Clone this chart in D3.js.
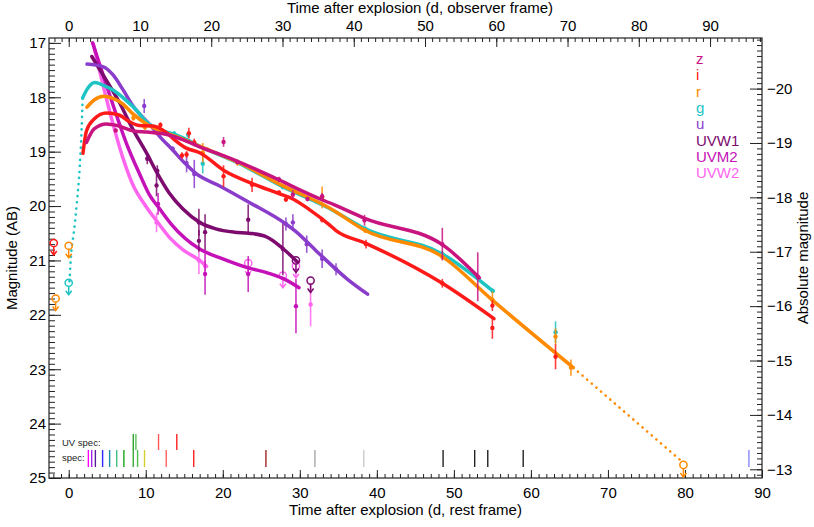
<!DOCTYPE html>
<html>
<head>
<meta charset="utf-8">
<script src="https://cdn.jsdelivr.net/npm/d3@7"></script>
<style>
body { margin: 0; background: #fff; }
svg text { font-family: "Liberation Sans", Arial, Helvetica, sans-serif; }
</style>
</head>
<body>
<svg id="chart" width="814" height="527"></svg>
<script>
/* Multi-band light curve (rest frame) with observer-frame and absolute-mag axes */

// redshift and distance modulus used for the secondary axes
var zRed = 0.081;
var distMod = 37.84;

var bandNames = ['z', 'i', 'r', 'g', 'u', 'UVW1', 'UVM2', 'UVW2'];

// smoothed curves: [rest-frame day, AB mag]
var curveZ = [[2.3,18.83],[3.3,18.58],[4.9,18.49],[6.3,18.52],[8.4,18.62],[10.2,18.64],[12.6,18.68],[14.8,18.78],[17.0,18.91],[21.3,19.14],[27.3,19.52],[31.2,19.78],[34.5,19.98],[38.5,20.23],[48.5,20.71],[53.3,21.32]];
var curveI = [[1.85,19.03],[2.3,18.62],[3.3,18.40],[4.9,18.29],[6.6,18.33],[7.9,18.45],[9.2,18.52],[10.9,18.53],[12.6,18.64],[13.9,18.8],[15.2,18.93],[17.0,19.02],[20.2,19.35],[23.9,19.59],[27.3,19.77],[29.1,19.87],[31.2,20.06],[33.8,20.34],[34.7,20.45],[38.5,20.68],[48.5,21.42],[55.2,22.07]];
var curveR = [[2.37,18.18],[3.3,18.05],[4.6,17.98],[5.9,18.03],[7.0,18.12],[8.3,18.30],[10.1,18.49],[12.0,18.62],[13.9,18.72],[17.0,18.9],[21.9,19.19],[27.7,19.62],[33.8,20.03],[38.5,20.45],[48.5,20.93],[55.0,21.73],[65.5,22.97]];
var curveG = [[1.81,18.01],[2.4,17.85],[3.4,17.73],[4.5,17.78],[5.8,17.87],[7.0,18.0],[8.4,18.18],[10.5,18.5],[11.8,18.6],[13.9,18.69],[15.4,18.78],[17.0,18.9],[21.9,19.2],[27.7,19.64],[33.8,20.04],[38.5,20.42],[48.5,20.88],[55.05,21.56]];
var curveU = [[2.37,17.39],[4.5,17.44],[5.7,17.58],[7.0,17.85],[8.3,18.15],[10.5,18.5],[12.0,18.75],[13.5,18.97],[15.0,19.2],[16.5,19.4],[19.6,19.63],[23.4,19.93],[28.2,20.33],[29.5,20.47],[32.1,20.82],[36.4,21.37],[38.8,21.62]];
var curveW1 = [[3.0,17.25],[4.5,17.6],[6.6,18.1],[8.3,18.58],[10.2,19.05],[11.5,19.4],[13.0,19.75],[14.8,20.05],[17.0,20.3],[19.1,20.42],[21.5,20.48],[23.4,20.5],[25.6,20.56],[27.8,20.78],[29.7,21.03]];
var curveM2 = [[3.1,17.0],[5.3,17.95],[7.5,18.85],[9.2,19.41],[10.5,19.8],[11.8,20.05],[13.3,20.33],[17.0,20.79],[20.0,20.97],[23.4,21.14],[25.6,21.22],[27.8,21.33],[29.9,21.50]];
var curveW2 = [[3.2,17.02],[5.3,18.25],[7.0,19.1],[8.3,19.6],[10.1,20.02],[11.4,20.27],[13.1,20.58],[14.8,20.8],[17.0,21.0],[17.9,21.11]];

// dotted extrapolations
var dotG = [[0.1,21.38],[0.35,20.82],[0.65,20.5],[1.08,19.9],[1.42,19.3],[1.65,18.66],[1.81,18.01]];
var dotR = [[65.5,22.97],[79.8,24.72]];

// photometry: [day, mag, error]
var obsZ = [[6.1,18.61,0.03],[20.1,18.82,0.09],[21.9,19.19,0.04],[27.3,19.51,0.05],[29.1,19.79,0.08],[31.0,19.87,0.04],[32.9,19.82,0.06],[38.4,20.26,0.1],[48.5,20.70,0.3],[53.1,21.30,0.45]];
var obsI = [[11.9,18.51,0.05],[15.6,18.66,0.1],[14.7,19.07,0.06],[15.3,19.05,0.06],[16.3,18.83,0.07],[20.1,19.45,0.2],[23.8,19.61,0.13],[27.3,19.75,0.03],[28.2,19.88,0.04],[32.9,20.25,0.05],[38.6,20.70,0.08],[48.5,21.42,0.08],[55.0,21.83,0.1],[55.0,22.24,0.2],[63.2,22.77,0.23]];
var obsR = [[8.4,18.38,0.05],[9.9,18.55,0.05],[17.4,19.02,0.18],[21.9,19.2,0.06],[32.9,19.84,0.2],[38.5,20.45,0.04],[48.5,20.93,0.05],[55.0,21.72,0.15],[63.2,22.40,0.15],[65.2,22.97,0.15]];
var obsG = [[13.7,18.67,0.05],[15.5,18.69,0.05],[17.4,19.22,0.18],[27.8,19.65,0.04],[38.5,20.42,0.05],[48.5,20.88,0.05],[55.05,21.56,0.04],[63.2,22.32,0.2]];
var obsU = [[9.8,18.16,0.13],[13.5,18.95,0.05],[15.3,19.21,0.17],[16.3,19.41,0.26],[28.2,20.33,0.12],[29.1,20.30,0.15],[30.9,20.70,0.16],[32.9,20.97,0.17],[34.7,21.16,0.11]];
var obsW1 = [[10.2,19.13,0.1],[11.5,19.35,0.1],[11.4,19.62,0.2],[16.9,20.30,0.25],[16.9,20.64,0.2],[17.7,20.48,0.33],[23.3,20.25,0.28],[27.8,20.79,0.48]];
var obsM2 = [[11.6,19.96,0.2],[17.7,21.25,0.38],[23.3,21.25,0.33],[29.5,21.84,0.5]];
var obsW2 = [[11.4,20.30,0.18],[16.9,21.0,0.25],[17.7,21.1,0.1],[31.4,21.81,0.4]];

// upper limits: [day, mag]
var limZ = [];
var limI = [[-1.94,20.68]];
var limR = [[0,20.73],[-1.7,21.70],[79.8,24.76]];
var limG = [[0,21.41]];
var limU = [];
var limW1 = [[29.5,21.0],[31.4,21.37]];
var limM2 = [];
var limW2 = [[23.3,21.05],[27.8,21.28],[29.5,21.1]];

// spectra epochs (rest-frame days)
var specDays = [2.55,2.98,3.46,4.40,5.31,6.23,7.16,8.38,8.94,9.84,12.66,16.23,25.6,31.96,38.3,48.6,52.7,54.4,59.0,88.3];
var uvSpecDays = [8.38,8.72,11.66,14.03];

// axis ticks
var xMajor = [0,10,20,30,40,50,60,70,80,90];
var yMajor = [17,18,19,20,21,22,23,24,25];
var absMajor = [-20,-19,-18,-17,-16,-15,-14,-13];

drawChart('#chart');

function drawChart(sel) {

	var bandColors = ['#c8147f', '#ff1a1a', '#ff8a00', '#1ec4c4', '#8a3ccb', '#7d0a6e', '#c511b8', '#ff66f0'];
	var specColors = ['#ff00ff','#a020e8','#5a1aa0','#2a2aff','#1a8ea8','#44c080','#1aa81a','#3cac3c','#4cc04c','#d0d030',
		'#ff6060','#ff2020','#a02828','#a8a8a8','#cccccc','#222222','#222222','#222222','#222222','#8888ff'];
	var uvSpecColors = ['#2aa02a','#5ac45a','#ff5858','#ff2020'];

	var curves = [curveZ, curveI, curveR, curveG, curveU, curveW1, curveM2, curveW2];
	var obs = [obsZ, obsI, obsR, obsG, obsU, obsW1, obsM2, obsW2];
	var lims = [limZ, limI, limR, limG, limU, limW1, limM2, limW2];

	var margin = {top: 38, right: 52, bottom: 49, left: 49},
		width = 814 - margin.left - margin.right,
		height = 527 - margin.top - margin.bottom;

	var svg = d3.select(sel);
	var chart = svg.append('g')
		.attr('transform', 'translate(' + margin.left + ',' + margin.top + ')');

	var xDom = [-2.56, 90];
	var x = d3.scaleLinear().domain(xDom).range([0, width]);
	var xObs = d3.scaleLinear().domain(xDom.map(function(d) { return d * (1 + zRed); })).range([0, width]);
	var y = d3.scaleLinear().domain([16.91, 25]).range([0, height]);
	var yAbs = d3.scaleLinear().domain(y.domain().map(function(d) { return d - distMod; })).range([0, height]);

	// minor tick sets
	var xMinor = d3.range(-2, 91);
	var xObsMinor = d3.range(-2, 98);
	var yMinor = d3.range(170, 251).map(function(d) { return d / 10; });
	var absMinor = d3.range(-209, -128).map(function(d) { return d / 10; });

	function styleAxis(g) {
		g.select('.domain').remove();
		g.selectAll('line').attr('stroke', '#222').attr('stroke-width', 1);
		g.selectAll('text').attr('font-size', 15).attr('fill', '#000')
			.style('font-family', '"Liberation Sans", Arial, sans-serif');
	}

	// bottom
	chart.append('g').attr('transform', 'translate(0,' + height + ')')
		.call(d3.axisBottom(x).tickValues(xMinor).tickSize(-4).tickFormat(''))
		.call(styleAxis);
	chart.append('g').attr('transform', 'translate(0,' + height + ')')
		.call(d3.axisBottom(x).tickValues(xMajor).tickSize(-8).tickPadding(9).tickFormat(d3.format('d')))
		.call(styleAxis);
	// top
	chart.append('g')
		.call(d3.axisTop(xObs).tickValues(xObsMinor).tickSize(-4).tickFormat(''))
		.call(styleAxis);
	chart.append('g')
		.call(d3.axisTop(xObs).tickValues(xMajor).tickSize(-9).tickPadding(7).tickFormat(d3.format('d')))
		.call(styleAxis);
	// left
	chart.append('g')
		.call(d3.axisLeft(y).tickValues(yMinor).tickSize(-6).tickFormat(''))
		.call(styleAxis);
	chart.append('g')
		.call(d3.axisLeft(y).tickValues(yMajor).tickSize(-12).tickPadding(3).tickFormat(d3.format('d')))
		.call(styleAxis);
	// right
	chart.append('g').attr('transform', 'translate(' + width + ',0)')
		.call(d3.axisRight(yAbs).tickValues(absMinor).tickSize(-5).tickFormat(''))
		.call(styleAxis);
	chart.append('g').attr('transform', 'translate(' + width + ',0)')
		.call(d3.axisRight(yAbs).tickValues(absMajor).tickSize(-12).tickPadding(5).tickFormat(d3.format('d')))
		.call(styleAxis);

	// frame
	chart.append('rect')
		.attr('width', width).attr('height', height)
		.attr('fill', 'none').attr('stroke', '#222').attr('stroke-width', 1.2);

	// axis titles
	svg.append('text').attr('x', 420).attr('y', 13).attr('text-anchor', 'middle')
		.attr('font-size', 15).text('Time after explosion (d, observer frame)');
	svg.append('text').attr('x', margin.left + width / 2).attr('y', 515).attr('text-anchor', 'middle')
		.attr('font-size', 15).text('Time after explosion (d, rest frame)');
	svg.append('text').attr('transform', 'translate(17,' + (margin.top + height / 2) + ') rotate(-90)')
		.attr('text-anchor', 'middle').attr('font-size', 15).text('Magnitude (AB)');
	svg.append('text').attr('transform', 'translate(808,' + (margin.top + height / 2) + ') rotate(-90)')
		.attr('text-anchor', 'middle').attr('font-size', 15).text('Absolute magnitude');

	// spectra markers
	var specTop = height - 28, specBot = height - 11, uvTop = height - 44;
	chart.selectAll('.spec')
		.data(specDays)
	  .enter().append('line')
		.attr('class', 'spec')
		.attr('x1', function(d) { return x(d); }).attr('x2', function(d) { return x(d); })
		.attr('y1', specTop).attr('y2', specBot)
		.attr('stroke', function(d, i) { return specColors[i]; })
		.attr('stroke-width', 1.4);
	chart.selectAll('.uvspec')
		.data(uvSpecDays)
	  .enter().append('line')
		.attr('class', 'uvspec')
		.attr('x1', function(d) { return x(d); }).attr('x2', function(d) { return x(d); })
		.attr('y1', uvTop).attr('y2', specTop)
		.attr('stroke', function(d, i) { return uvSpecColors[i]; })
		.attr('stroke-width', 1.4);
	chart.append('text').attr('x', 13).attr('y', specTop - 4)
		.attr('font-size', 9.5).attr('fill', '#222').text('UV spec:');
	chart.append('text').attr('x', 13).attr('y', specBot - 6)
		.attr('font-size', 9.5).attr('fill', '#222').text('spec:');

	var line = d3.line()
		.x(function(d) { return x(d[0]); })
		.y(function(d) { return y(d[1]); })
		.curve(d3.curveMonotoneX);

	// dotted extensions
	chart.append('path').attr('d', line(dotG))
		.attr('fill', 'none').attr('stroke', bandColors[3]).attr('stroke-width', 2.6)
		.attr('stroke-linecap', 'round').attr('stroke-dasharray', '0.1 6');
	chart.append('path').attr('d', line(dotR))
		.attr('fill', 'none').attr('stroke', bandColors[2]).attr('stroke-width', 2.6)
		.attr('stroke-linecap', 'round').attr('stroke-dasharray', '0.1 6');

	// draw bands from last to first so z ends up on top
	for (var b = bandNames.length - 1; b >= 0; b--) {
		var col = bandColors[b];
		var g = chart.append('g').attr('class', 'band-' + bandNames[b]);

		g.selectAll('.err')
			.data(obs[b])
		  .enter().append('line')
			.attr('x1', function(d) { return x(d[0]); }).attr('x2', function(d) { return x(d[0]); })
			.attr('y1', function(d) { return y(d[1] - d[2]); }).attr('y2', function(d) { return y(d[1] + d[2]); })
			.attr('stroke', col).attr('stroke-width', 1.6).attr('opacity', 0.85);

		g.append('path').attr('d', line(curves[b]))
			.attr('fill', 'none').attr('stroke', col).attr('stroke-width', 3.5)
			.attr('stroke-linejoin', 'round').attr('stroke-linecap', 'round');

		g.selectAll('.pt')
			.data(obs[b])
		  .enter().append('circle')
			.attr('cx', function(d) { return x(d[0]); })
			.attr('cy', function(d) { return y(d[1]); })
			.attr('r', 2.2).attr('fill', col);

		// upper limits: open circle with arrow
		var lim = g.selectAll('.lim')
			.data(lims[b])
		  .enter().append('g')
			.attr('transform', function(d) { return 'translate(' + x(d[0]) + ',' + y(d[1]) + ')'; })
			.attr('stroke', col).attr('fill', 'none').attr('stroke-width', 1.5);
		lim.append('circle').attr('r', 3.6);
		lim.append('line').attr('x1', 0).attr('x2', 0).attr('y1', 3.6).attr('y2', 12);
		lim.append('path').attr('d', 'M-3,8L0,12L3,8');
	}

	// legend
	chart.selectAll('.legend')
		.data(bandNames)
	  .enter().append('text')
		.attr('class', 'legend')
		.attr('x', 696 - margin.left)
		.attr('y', function(d, i) { return 64 - margin.top + i * 16.33; })
		.attr('font-size', 15)
		.attr('fill', function(d, i) { return bandColors[i]; })
		.text(function(d) { return d; });
}
</script>
</body>
</html>
